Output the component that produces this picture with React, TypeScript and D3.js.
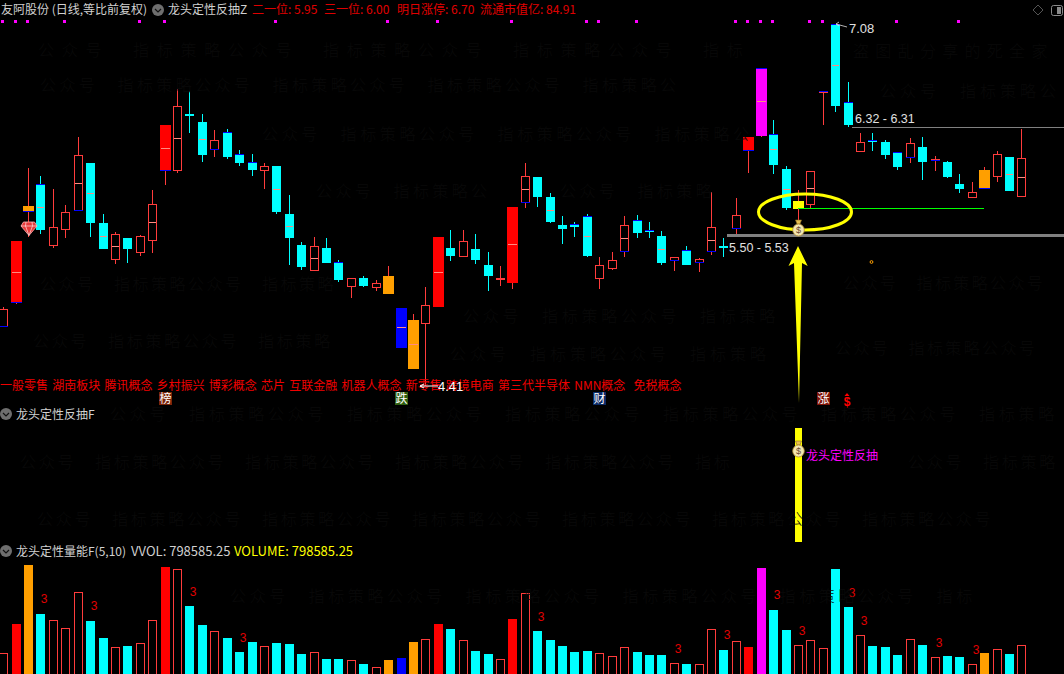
import React from "react";
import * as d3 from "d3";

const kinds = "h r o c h h h c c h c h h r h c c h c c c h c c c h c c h c h o b o h r c h c c h r h c c c c c h h h c c c h c h h c h r m c c y h h c c h c c c h c h c c h o h c h".split(" ");
const volumeKindOverrides: [number, string][] = [[64, "h"]];

const highs = [4.993,5.480,6.018,5.959,5.863,5.745,6.247,6.055,5.679,5.546,5.502,5.524,5.856,6.335,6.601,6.586,6.416,6.298,6.306,6.151,6.121,6.055,6.033,5.819,5.472,5.509,5.502,5.339,5.207,5.221,5.192,5.295,4.985,4.941,5.140,5.509,5.561,5.561,5.531,5.398,5.295,5.730,6.055,5.952,5.834,5.664,5.620,5.679,5.362,5.398,5.664,5.671,5.620,5.553,5.362,5.443,5.354,5.841,5.502,5.797,6.247,6.755,6.372,6.033,5.856,5.996,6.586,7.080,6.652,6.276,6.276,6.224,6.136,6.239,6.247,6.106,6.070,5.974,5.915,6.025,6.143,6.099,6.306];
const bodyTops = [4.978,5.480,5.738,5.900,5.583,5.693,6.114,6.055,5.612,5.531,5.502,5.516,5.752,6.335,6.475,6.416,6.357,6.224,6.283,6.121,6.062,6.033,6.033,5.679,5.450,5.443,5.428,5.325,5.207,5.207,5.170,5.221,4.985,4.897,5.008,5.509,5.428,5.480,5.421,5.303,5.205,5.730,5.959,5.952,5.804,5.598,5.605,5.664,5.303,5.339,5.598,5.634,5.561,5.516,5.362,5.413,5.347,5.583,5.439,5.671,6.247,6.755,6.269,6.011,5.775,5.996,6.586,7.080,6.505,6.210,6.224,6.210,6.136,6.202,6.173,6.084,6.062,5.900,5.841,6.003,6.121,6.099,6.092];
const bodyBottoms = [4.845,5.025,5.696,5.561,5.445,5.563,5.701,5.612,5.421,5.342,5.421,5.393,5.482,5.994,5.998,6.401,6.114,6.151,6.099,6.055,6.003,5.996,5.693,5.502,5.288,5.261,5.317,5.192,5.143,5.148,5.133,5.089,4.693,4.536,4.870,4.993,5.369,5.364,5.339,5.221,5.192,5.170,5.760,5.804,5.620,5.568,5.583,5.369,5.202,5.273,5.398,5.539,5.553,5.317,5.332,5.303,5.317,5.398,5.428,5.568,6.143,6.254,6.040,5.723,5.716,5.745,6.578,6.475,6.335,6.136,6.210,6.114,6.025,6.092,6.062,6.070,5.952,5.863,5.797,5.863,5.952,5.848,5.804];
const lows = [4.845,5.017,5.511,5.531,5.430,5.504,5.701,5.511,5.421,5.312,5.320,5.371,5.393,5.893,5.981,6.276,6.062,6.099,6.084,6.033,5.959,5.863,5.679,5.303,5.266,5.261,5.317,5.177,5.061,5.140,5.111,5.089,4.693,4.536,4.410,4.993,5.332,5.364,5.310,5.111,5.148,5.126,5.723,5.730,5.612,5.457,5.509,5.362,5.126,5.266,5.362,5.502,5.502,5.303,5.258,5.303,5.251,5.376,5.362,5.531,5.981,6.247,5.974,5.708,5.598,5.723,6.335,6.431,6.320,6.136,6.143,6.084,6.003,6.055,5.929,5.996,5.944,5.834,5.797,5.863,5.915,5.848,5.804];
const midIndexes = [1,3,6,7,8,9,12,13,14,16,22,23,25,32,33,35,41,42,44,47,50,53,57,61,62,63,65,67,81,82];
const midPrices = [5.251,5.730,5.907,5.834,5.516,5.443,5.620,6.165,6.239,6.232,5.863,5.590,5.354,4.845,4.720,5.251,5.457,5.863,5.708,5.516,5.502,5.421,5.487,6.512,6.158,5.863,5.870,6.778,5.974,5.952];
const blueTopIndexes = [3,18,19,20,27,46,47,51,52,55,61,62,66,67,68,70,72];
const blueBottomIndexes = [0,1,2,6,13,17,42,50,54,56,57,59,60,73,75,79];
const volumes = [576,1391,3033,1670,1494,1272,2273,1475,1002,743,779,854,1494,2977,2913,1892,1363,1188,1002,612,890,771,863,835,557,604,417,417,381,278,186,390,445,890,966,1391,1252,938,640,557,409,1530,2245,1196,946,779,612,640,576,493,743,612,529,529,298,278,270,1244,668,910,751,2949,1781,1224,799,938,715,2922,1864,1077,779,751,529,966,807,465,501,473,270,584,687,557,799];
const signalIndexes = [0,1,2,5,11,13,22,31,35,41,47,48,51,59,60,61,62,65,66,72,77];
const threeIndexes = [3,7,15,19,43,54,58,62,64,68,69,75,78];
const concepts = ["一般零售","湖南板块","腾讯概念","乡村振兴","博彩概念","芯片","互联金融","机器人概念","新零售","跨境电商","第三代半导体","NMN概念","免税概念"];
const headerValues = ["二一位: 5.95","三一位: 6.00","明日涨停: 6.70","流通市值亿: 84.91"];
const headerValueX = [252,324,397,480];
const priceHigh = 7.08, priceLow = 4.41;
const rangeA = [5.50,5.53], rangeB = [6.32,6.31];
const greenPrice = 5.72;
const tags = [{t:"榜",i:13,c:"#7a2408"},{t:"跌",i:32,c:"#2f5f10"},{t:"财",i:48,c:"#0b2a66"},{t:"涨",i:66,c:"#7e1206"}];

const W = 1064, H = 674;
const FONT = "'Liberation Sans','Noto Sans CJK SC',sans-serif";
const CJK = "'Noto Sans CJK SC','Liberation Sans',sans-serif";
const RED = "#ff3c3c", CYAN = "#00ffff";
const FILL: Record<string,string> = {r:"#ff0000",o:"#ff9f00",b:"#0000ff",m:"#ff00ff",y:"#ffff00",c:CYAN};

const xs = d3.scaleLinear().domain([0,82]).range([4.24,1022.434]);
const ys = d3.scaleLinear().domain([priceLow,priceHigh]).range([386,24]);
const vs = d3.scaleLinear().domain([0,798.585]).range([674,645.3]);
const left = (i:number)=>Math.floor(xs(i)-4.5);
const py = (p:number)=>Math.round(ys(p));

const WM = ["公","众","号","","指","标","策","略"];
const wmRows: [number,number,number,number][] = [
  [38,49,190,745],[40,84,155,670],[262,133,157,740],[316,190,155,472],[560,190,155,712],[880,90,160,1042],
  [40,283,148,332],[33,340,150,327],[463,315,158,775],[450,353,160,765],[110,413,158,1046],[843,282,147,1046],
  [835,347,147,1046],[20,461,150,717],[908,461,150,1046],[37,518,150,986],[230,595,157,967],
];

function Bag({x,y}:{x:number;y:number}){
  return <g transform={`translate(${x},${y})`}>
    <path d="M-3,-8 L3,-8 L1.5,-4 L-1.5,-4 Z" fill="#e8c050" stroke="#8a6a20" strokeWidth={0.6}/>
    <ellipse cx={0} cy={2} rx={5.8} ry={6} fill="#f2e6b0" stroke="#b08a30" strokeWidth={0.8}/>
    <text x={0} y={5} textAnchor="middle" fontSize={9} fontFamily={FONT} fill="#6a4a30">$</text>
  </g>;
}
function Chevron({x,y}:{x:number;y:number}){
  return <g>
    <circle cx={x} cy={y} r={6} fill="#6e6e6e"/>
    <path d={`M${x-3},${y-1} L${x},${y+2} L${x+3},${y-1}`} fill="none" stroke="#111" strokeWidth={1.2}/>
  </g>;
}

export default function App(){
  const volumeKind = (i:number)=>{ const o = volumeKindOverrides.find(d=>d[0]===i); return o?o[1]:kinds[i]; };
  return <svg width={W} height={H} viewBox={`0 0 ${W} ${H}`} style={{position:"fixed",left:0,top:0,display:"block"}} shapeRendering="crispEdges">
    <rect width={W} height={H} fill="#000"/>

    {/* candles */}
    {kinds.map((k,i)=>{
      const l = left(i), c = l+4;
      const hi=py(highs[i]), t=py(bodyTops[i]), b=py(bodyBottoms[i]), lo=py(lows[i]);
      const wick = k==="c"?CYAN:RED;
      const wide = k==="r"||k==="o"||k==="b"||k==="m"||k==="y";
      const midPos = midIndexes.indexOf(i);
      const bx = wide?l-1:l, bw = wide?11:9;
      return <g key={i}>
        {t>hi && <rect x={c} y={hi} width={1} height={t-hi} fill={wick}/>}
        {lo>b && <rect x={c} y={b} width={1} height={lo-b} fill={wick}/>}
        {k==="h"
          ? <rect x={l+0.5} y={t+0.5} width={8} height={Math.max(b-t-1,1)} fill="#000" stroke={RED} strokeWidth={1}/>
          : <rect x={bx} y={t} width={bw} height={Math.max(b-t,2)} fill={FILL[k]}/>}
        {midPos>=0 && <rect x={bx+1} y={py(midPrices[midPos])} width={bw-2} height={1} fill="#ff8a80"/>}
        {blueTopIndexes.includes(i) && <rect x={bx} y={t} width={bw} height={1} fill="#0000ff"/>}
        {blueBottomIndexes.includes(i) && <rect x={bx} y={b-1} width={bw} height={1} fill="#0000ff"/>}
      </g>;
    })}

    {/* signal dots */}
    {signalIndexes.map(i=><rect key={i} x={left(i)+2} y={20} width={3} height={3} fill="#ff00ff"/>)}

    {/* levels */}
    <rect x={852} y={py(rangeB[0])} width={W-852} height={1} fill="#808080"/>
    <rect x={727} y={py(rangeA[1])} width={W-727} height={3} fill="#808080"/>
    <rect x={798} y={py(greenPrice)} width={186} height={1} fill="#00ff00"/>
    <g shapeRendering="auto">
      <ellipse cx={805} cy={212} rx={46.5} ry={18} fill="none" stroke="#ffff00" strokeWidth={3}/>
      <Bag x={798.5} y={228}/>
      <polygon points="798,246 807.7,266 802,263 799,403 794,263 788.5,266" fill="#ffff00"/>
      <circle cx={871.5} cy={262} r={1.4} fill="none" stroke="#ff9f00" strokeWidth={1}/>

      {/* gem */}
      <g transform="translate(29,228)">
        <polygon points="-5.5,-6 5.5,-6 8,-2 0,7.5 -8,-2" fill="#e53a3a" stroke="#ffb0b0" strokeWidth={0.8}/>
        <path d="M-8,-2 L8,-2 M-3,-6 L-3.5,-2 L0,7.5 L3.5,-2 L3,-6" fill="none" stroke="#ffe0e0" strokeWidth={0.7}/>
      </g>

      {/* price labels */}
      <path d="M847,27 L836,24 M836,24 L839,22 M836,24 L839,26" fill="none" stroke="#ddd" strokeWidth={0.8}/>
      <text x={849} y={33} fontSize={13} fontFamily={FONT} fill="#e0e0e0">{priceHigh.toFixed(2)}</text>
      <text x={855} y={123} fontSize={12.5} fontFamily={FONT} fill="#e0e0e0">{`${rangeB[0].toFixed(2)} - ${rangeB[1].toFixed(2)}`}</text>
      <text x={729} y={252} fontSize={12.5} fontFamily={FONT} fill="#e0e0e0">{`${rangeA[0].toFixed(2)} - ${rangeA[1].toFixed(2)}`}</text>

      {/* header */}
      <text x={1} y={14} fontSize={12} fontFamily={CJK} fill="#d0d0d0">友阿股份 (日线,等比前复权)</text>
      <Chevron x={158} y={10}/>
      <text x={168} y={14} fontSize={12} fontFamily={CJK} fill="#d0d0d0">龙头定性反抽Z</text>
      {headerValues.map((t,i)=><text key={t} x={headerValueX[i]} y={14} fontSize={12} fontFamily={CJK} fill="#e00000">{t}</text>)}
      <polygon points="1038,5 1043,10 1038,15 1033,10" fill="none" stroke="#555" strokeWidth={1}/>
      <rect x={1051.5} y={5.5} width={11} height={10} rx={2} fill="none" stroke="#8a8a8a" strokeWidth={1}/>
      <rect x={1057} y={7} width={4} height={7} fill="#8a8a8a"/>

      {/* concepts */}
      <text x={0} y={390} fontSize={12} fontFamily={CJK} fill="#f00000" style={{wordSpacing:"1.5px"}}>
        {concepts.map((t,i)=><tspan key={t} dx={i===12?4:0}>{t+(i<concepts.length-1?" ":"")}</tspan>)}
      </text>
      <path d="M420,386 L438,386 M420,386 L424,384 M420,386 L424,388" fill="none" stroke="#fff" strokeWidth={1}/>
      <text x={438} y={391} fontSize={13} fontFamily={FONT} fill="#fff">{priceLow.toFixed(2)}</text>

      {/* tags */}
      {tags.map(d=>{ const cx=left(d.i)+4.5; return <g key={d.t}>
        <rect x={cx-6.5} y={392} width={13} height={13} fill={d.c}/>
        <text x={cx} y={403} textAnchor="middle" fontSize={12} fontFamily={CJK} fill="#fff">{d.t}</text>
      </g>;})}
      <path d="M847,393 L849.5,396 L844.5,396 Z" fill="#f00"/>
      <text x={847} y={406} textAnchor="middle" fontSize={12} fontWeight="bold" fontFamily={FONT} fill="#f00">$</text>

      {/* panel titles */}
      <Chevron x={6} y={414}/>
      <text x={16} y={419} fontSize={12} fontFamily={CJK} fill="#d0d0d0">龙头定性反抽F</text>
      <Chevron x={6} y={551}/>
      <text x={16} y={556} fontSize={12} fontFamily={CJK} fill="#d0d0d0">龙头定性量能F(5,10)</text>
      <text x={131} y={556} fontSize={13} fontFamily={CJK} fill="#d0d0d0">VVOL: 798585.25</text>
      <text x={234} y={556} fontSize={13} fontFamily={CJK} fill="#ffff00">VOLUME: 798585.25</text>
    </g>

    {/* middle panel */}
    <rect x={795} y={428} width={7} height={114} fill="#ffff00"/>
    <g shapeRendering="auto">
      <Bag x={798.5} y={449}/>
      <text x={806} y={460} fontSize={12} fontFamily={CJK} fill="#ff00ff">龙头定性反抽</text>
    </g>

    {/* volume */}
    {kinds.map((_,i)=>{
      const k = volumeKind(i), l = left(i), t = Math.round(vs(volumes[i]));
      return k==="h"
        ? <rect key={i} x={l+0.5} y={t+0.5} width={8} height={H+5-t} fill="#000" stroke={RED}/>
        : <rect key={i} x={l} y={t} width={9} height={H-t} fill={FILL[k]}/>;
    })}
    <g shapeRendering="auto">
      {threeIndexes.map(i=><text key={i} x={left(i)+8} y={vs(volumes[i])-10.5} textAnchor="middle" fontSize={12} fontFamily={FONT} fill="#e00000">3</text>)}

      {/* watermark: sits on top of the marks */}
      {wmRows.flatMap(([x0,y,p,end],r)=>d3.range(0,Math.ceil((end-x0)/(p/8))).map(k=>{
        const ch = WM[k%8]; const x = x0+k*p/8;
        return ch && x<end ? <text key={`${r}-${k}`} x={x} y={y+7} fontSize={16} fontFamily={CJK} fontWeight={300} fill="#090909">{ch}</text> : null;
      }))}
      {"盗图乱分享的死全家".split("").map((ch,k)=><text key={ch} x={853+k*22.3} y={57} fontSize={16} fontFamily={CJK} fontWeight={300} fill="#090909">{ch}</text>)}
    </g>
  </svg>;
}
